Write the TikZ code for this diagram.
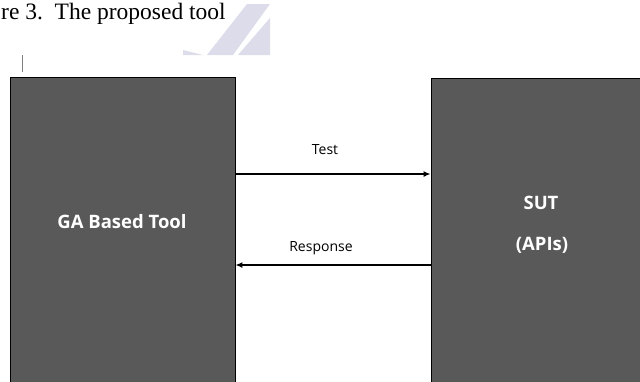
\documentclass[tikz,border=0pt]{standalone}
\usepackage{fontspec}
\setmainfont{Liberation Serif}
\newfontfamily\uifont{Open Sans}
\usetikzlibrary{arrows.meta}
\definecolor{boxgray}{HTML}{595959}
\definecolor{wmark}{HTML}{DCDCEA}
\tikzset{
  block/.style={draw=black, line width=0.8pt, fill=boxgray, rectangle, inner sep=0pt},
  blocklabel/.style={text=white, font=\uifont\bfseries\fontsize{18.5}{22}\selectfont, inner sep=0pt},
  msglabel/.style={text=black, font=\uifont\fontsize{14}{17}\selectfont, inner sep=0pt},
  msg/.style={line width=1.6pt, -{Latex[length=7pt,width=6pt]}},
}
\begin{document}
\begin{tikzpicture}[x=1pt,y=-1pt]
\useasboundingbox (0,0) rectangle (640,381);
\clip (0,0) rectangle (640,381);
% watermark
\fill[wmark] (183,50) -- (203,55) -- (183,55) -- cycle;
\fill[wmark] (207,55) -- (233,55) -- (270,4) -- (247,4) -- cycle;
\fill[wmark] (238,55) -- (270,55) -- (270,18) -- cycle;
% caption fragment
\node[anchor=base west, inner sep=0pt, font=\fontsize{23.5}{26}\selectfont] (cap) at (1,19) {re 3.\ \ The proposed tool};
% cursor bar
\coordinate (barT) at (22,55);
\coordinate (barB) at (22,72);
\draw[gray, line width=0.9pt] (barT) -- (barB);
% blocks
\node[block, minimum width=225pt, minimum height=330pt] (ga) at (122.5,242) {};
\node[block, minimum width=220pt, minimum height=330pt] (sut) at (541,243) {};
\node[blocklabel] (galab) at (122,222) {GA Based Tool};
\node[blocklabel] (sutlab) at (541,203) {SUT};
\node[blocklabel] (apilab) at (542,245) {(APIs)};
% messages
\coordinate (testY) at (0,174);
\coordinate (respY) at (0,265);
\draw[msg] (ga.east |- testY) -- (sut.west |- testY);
\draw[msg] (sut.west |- respY) -- (ga.east |- respY);
\node[msglabel] (testlab) at (325,150) {Test};
\node[msglabel] (resplab) at (321,248) {Response};
\end{tikzpicture}
\end{document}
